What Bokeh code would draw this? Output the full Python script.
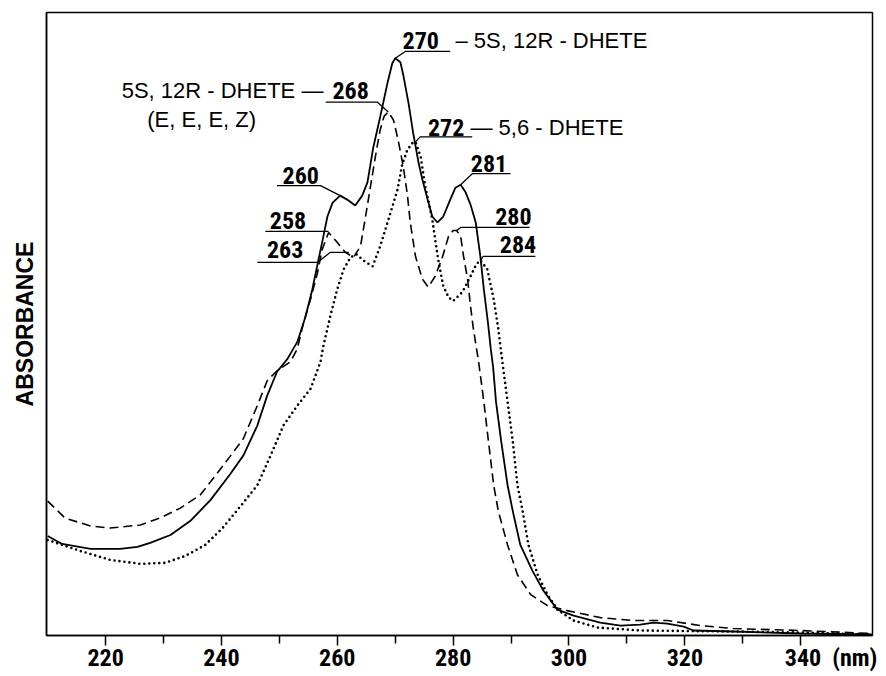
from bokeh.plotting import figure
from bokeh.models import Range1d, FixedTicker, Label
from bokeh.embed import file_html
from bokeh.resources import INLINE

# ---- data (wavelength in nm, absorbance in arbitrary units) ----
solid_nm = [210.0, 212.5, 217.4, 222.5, 225.5, 227.7, 231.2, 234.6, 238.1, 241.5, 243.8, 246.2,
            247.9, 249.6, 251.4, 253.1, 254.5, 255.7, 256.7, 257.6, 258.3, 259.2, 260.5, 261.7,
            263.1, 264.3, 265.2, 266.2, 267.4, 268.7, 269.5, 270.0, 270.9, 271.4, 272.3, 273.1,
            274.0, 274.7, 275.6, 276.4, 277.3, 278.3, 279.5, 280.4, 281.3, 282.1, 283.0, 283.9,
            284.7, 285.3, 286.0, 286.5, 286.9, 287.4, 288.3, 289.4, 290.3, 291.6, 293.7, 295.6,
            298.0, 300.8, 305.4, 308.9, 312.3, 314.6, 317.0, 319.8, 321.5, 328.4, 340.0, 352.4]
solid_abs = [0.100, 0.092, 0.087, 0.087, 0.089, 0.093, 0.101, 0.115, 0.136, 0.162, 0.181, 0.211,
             0.241, 0.265, 0.278, 0.295, 0.320, 0.348, 0.376, 0.401, 0.421, 0.435, 0.442, 0.438,
             0.432, 0.442, 0.455, 0.490, 0.521, 0.556, 0.575, 0.580, 0.576, 0.563, 0.535, 0.505,
             0.476, 0.458, 0.438, 0.421, 0.415, 0.421, 0.438, 0.450, 0.453, 0.446, 0.433, 0.415,
             0.381, 0.348, 0.315, 0.288, 0.270, 0.235, 0.195, 0.151, 0.125, 0.091, 0.065, 0.045,
             0.026, 0.020, 0.013, 0.010, 0.011, 0.013, 0.012, 0.009, 0.005, 0.004, 0.002, 0.001]

dashed_nm = [210.0, 213.0, 217.4, 220.8, 226.0, 229.4, 232.9, 236.3, 238.6, 241.5, 243.8, 246.2,
             247.9, 249.6, 251.9, 253.1, 254.2, 255.4, 256.6, 257.4, 258.5, 260.0, 261.4, 262.8,
             264.0, 264.8, 265.7, 266.6, 267.4, 268.1, 268.8, 269.7, 270.5, 271.4, 272.1, 272.6,
             273.5, 274.7, 275.7, 276.9, 278.2, 279.2, 280.0, 280.6, 281.3, 281.8, 282.5, 283.0,
             283.5, 284.4, 285.3, 286.1, 287.0, 287.8, 289.4, 291.1, 293.4, 296.3, 299.7, 305.4,
             311.1, 317.0, 322.7, 328.4, 340.0, 352.4]
dashed_abs = [0.135, 0.118, 0.110, 0.108, 0.111, 0.118, 0.128, 0.141, 0.158, 0.180, 0.198, 0.231,
              0.256, 0.266, 0.275, 0.288, 0.315, 0.338, 0.365, 0.388, 0.405, 0.395, 0.385, 0.380,
              0.391, 0.418, 0.450, 0.482, 0.508, 0.522, 0.526, 0.518, 0.498, 0.471, 0.443, 0.415,
              0.381, 0.358, 0.350, 0.361, 0.381, 0.401, 0.407, 0.407, 0.401, 0.381, 0.358, 0.331,
              0.308, 0.275, 0.235, 0.195, 0.151, 0.125, 0.091, 0.061, 0.041, 0.030, 0.025, 0.018,
              0.015, 0.015, 0.010, 0.007, 0.005, 0.002]

dotted_nm = [210.0, 215.6, 220.8, 226.0, 230.3, 233.8, 237.2, 240.2, 243.3, 246.2, 248.5, 250.7,
             253.1, 255.4, 257.1, 257.6, 258.8, 260.0, 261.1, 262.3, 263.3, 264.7, 266.1, 267.4,
             269.2, 270.4, 271.2, 272.1, 273.0, 273.5, 274.4, 275.2, 276.4, 276.9, 277.5, 278.3,
             279.2, 280.0, 281.6, 283.0, 284.0, 284.7, 285.9, 287.0, 287.8, 288.5, 289.4, 290.3,
             291.1, 292.0, 293.0, 294.6, 296.3, 298.0, 300.8, 304.9, 312.3, 328.4, 340.0, 352.4]
dotted_abs = [0.096, 0.085, 0.076, 0.072, 0.073, 0.080, 0.091, 0.108, 0.130, 0.151, 0.181, 0.211,
              0.231, 0.248, 0.275, 0.291, 0.321, 0.348, 0.368, 0.380, 0.383, 0.376, 0.371, 0.391,
              0.425, 0.448, 0.473, 0.488, 0.495, 0.496, 0.481, 0.451, 0.418, 0.398, 0.375, 0.351,
              0.340, 0.336, 0.345, 0.361, 0.373, 0.377, 0.368, 0.338, 0.308, 0.275, 0.235, 0.195,
              0.151, 0.125, 0.091, 0.061, 0.041, 0.026, 0.015, 0.008, 0.005, 0.004, 0.003, 0.001]

major_ticks = [220, 240, 260, 280, 300, 320, 340]
minor_ticks = [230, 250, 270, 290, 310, 330]
unit_label = "(nm)"

NUM_FONT = "Roboto Condensed"
TXT_FONT = "Liberation Sans"

p = figure(width=884, height=674, x_range=Range1d(209.8, 352.4), y_range=Range1d(0, 0.626),
           output_backend="svg", toolbar_location=None, title=None,
           min_border_left=46, min_border_right=12, min_border_top=12, min_border_bottom=36)
p.xgrid.visible = False
p.ygrid.visible = False
p.outline_line_color = "black"
p.outline_line_width = 1.5
p.outline_line_alpha = 1.0

# x axis
xa = p.xaxis[0]
xa.ticker = FixedTicker(ticks=major_ticks, minor_ticks=minor_ticks)
xa.major_tick_in = 0
xa.major_tick_out = 10
xa.minor_tick_in = 0
xa.minor_tick_out = 8
xa.major_tick_line_width = 1.5
xa.minor_tick_line_width = 1.5
xa.axis_line_width = 1.5
xa.major_label_text_font = NUM_FONT
xa.major_label_text_font_style = "bold"
xa.major_label_text_font_size = "24px"
xa.major_label_text_color = "black"
xa.major_label_standoff = -2
# last tick label carries the unit; non-breaking padding keeps "340" centred on its tick
pad = "\u00a0" * 11
xa.major_label_overrides = {major_ticks[-1]: pad + str(major_ticks[-1]) + "\u00a0\u00a0" + unit_label}

# y axis
ya = p.yaxis[0]
ya.ticker = FixedTicker(ticks=[])
ya.major_tick_line_color = None
ya.minor_tick_line_color = None
ya.major_label_text_font_size = "0px"
ya.major_label_standoff = 0
ya.axis_line_width = 1.5
ya.axis_label = "ABSORBANCE"
ya.axis_label_text_font = TXT_FONT
ya.axis_label_text_font_style = "bold"
ya.axis_label_text_font_size = "23px"
ya.axis_label_text_color = "black"
ya.axis_label_standoff = 9

# curves
p.line(solid_nm, solid_abs, line_color="black", line_width=1.8)
p.line(dashed_nm, dashed_abs, line_color="black", line_width=1.6, line_dash="9 5")
p.line(dotted_nm, dotted_abs, line_color="black", line_width=2.6, line_dash="0 5", line_cap="round")

# leader lines for peak labels
def leader(xs, ys):
    p.line(xs, ys, line_color="black", line_width=1.3)

leader([270.0, 271.8, 279.5], [0.580, 0.587, 0.587])          # 270
leader([268.8, 266.9, 258.0], [0.526, 0.536, 0.536])          # 268
leader([273.5, 274.3, 283.3], [0.496, 0.501, 0.501])          # 272
leader([281.3, 283.3, 289.9], [0.453, 0.464, 0.464])          # 281
leader([280.6, 281.3, 293.2], [0.407, 0.410, 0.410])          # 280
leader([284.7, 285.2, 294.2], [0.377, 0.381, 0.381])          # 284
leader([260.5, 257.1, 249.6], [0.442, 0.452, 0.452])          # 260
leader([258.5, 247.6], [0.406, 0.406])                        # 258
leader([262.0, 258.8, 256.6, 246.2], [0.385, 0.385, 0.375, 0.375])  # 263

def num(x, y, t):
    p.add_layout(Label(x=x, y=y, text=t, text_font=NUM_FONT, text_font_style="bold",
                       text_font_size="24px", text_align="center", text_baseline="middle",
                       text_color="black"))

def txt(x, y, t, align="left"):
    p.add_layout(Label(x=x, y=y, text=t, text_font=TXT_FONT, text_font_size="22px",
                       text_align=align, text_baseline="middle", text_color="black"))

num(274.4, 0.598, "270")
txt(280.4, 0.598, "\u2013 5S, 12R - DHETE")
num(262.3, 0.548, "268")
txt(257.6, 0.548, "5S, 12R - DHETE \u2014", align="right")
txt(227.2, 0.518, "(E, E, E, Z)")
num(278.8, 0.510, "272")
txt(283.0, 0.510, "\u2014 5,6 - DHETE")
num(286.2, 0.4745, "281")
num(290.4, 0.4215, "280")
num(291.2, 0.3925, "284")
num(253.7, 0.4625, "260")
num(251.5, 0.4175, "258")
num(251.0, 0.388, "263")

open("out.html", "w").write(file_html(p, INLINE))
